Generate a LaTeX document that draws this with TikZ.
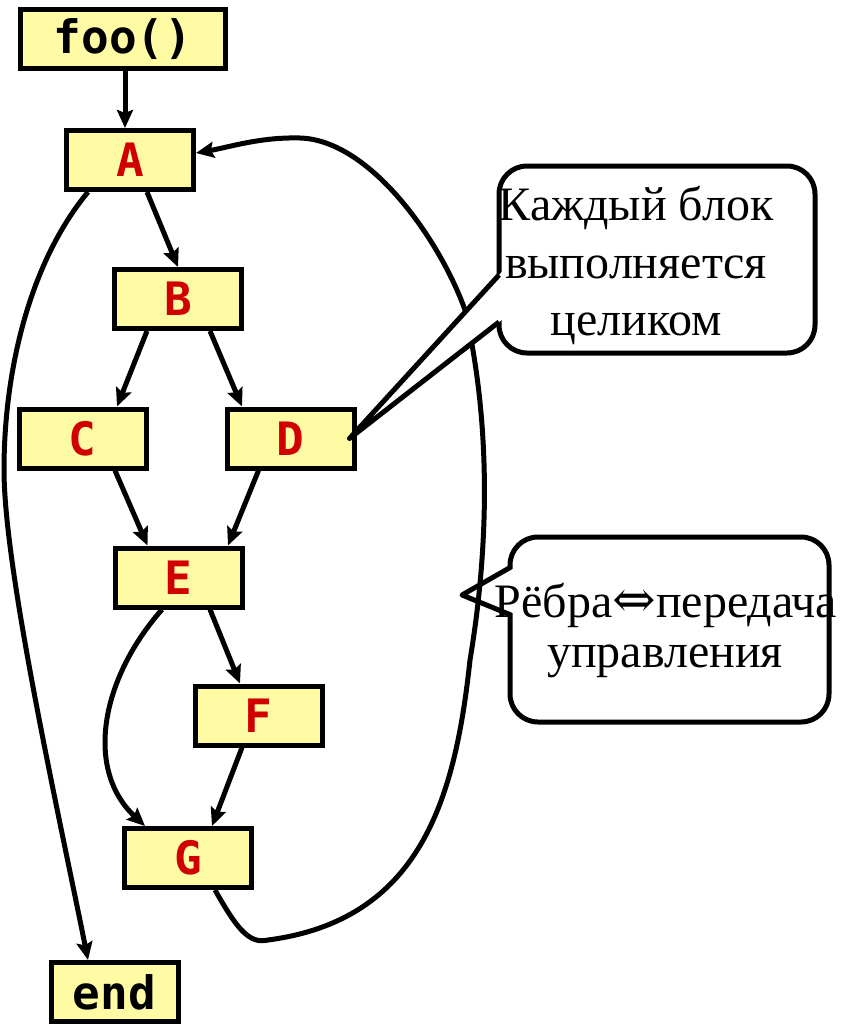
\documentclass[tikz,border=0pt]{standalone}
\usepackage{fontspec}
\setmainfont{Liberation Serif}
\newfontfamily\boxfont{DejaVu Sans Mono}
\newfontfamily\symfont{DejaVu Serif}
\usetikzlibrary{arrows.meta}
\definecolor{boxfill}{HTML}{FFFBA5}
\definecolor{boxred}{HTML}{D00000}
\begin{document}
\begin{tikzpicture}[x=1pt,y=-1pt,
  blk/.style={draw=black, line width=5pt, fill=boxfill, minimum width=127pt, minimum height=59pt, inner sep=0pt, font=\boxfont\bfseries\fontsize{46}{50}\selectfont, text=boxred},
  blkk/.style={blk, text=black},
  flow/.style={line width=5pt, line join=round, -{Stealth[length=18pt,width=16pt,inset=3pt]}},
  callout/.style={draw=black, line width=5pt, fill=white, rounded corners=28pt},
  wedge/.style={line width=5pt, line join=round},
  ctext/.style={font=\fontsize{48}{57}\selectfont, anchor=base, inner sep=0pt}]
\useasboundingbox (0,0) rectangle (846,1025);

\node[blkk, minimum width=205pt] (foo) at (123,39) {foo()};
\node[blk] (A) at (130,160) {A};
\node[blk] (B) at (178,299) {B};
\node[blk] (C) at (82.5,438.5) {C};
\node[blk] (D) at (290.5,438.5) {D};
\node[blk] (E) at (178.5,577.5) {E};
\node[blk] (F) at (258.5,715.5) {F};
\node[blk] (G) at (188,858) {G};
\node[blkk] (endn) at (114.5,992) {end};

\draw[flow] ([xshift=2pt]foo.south) -- ([xshift=-5pt]A.north);
\draw[flow] ([xshift=17pt]A.south) -- (B.north);
\draw[flow] ([xshift=-42pt]A.south) .. controls (30,262) and (4,370) .. (4,470)
  .. controls (4,570) and (60,820) .. ([xshift=-26.5pt]endn.north);
\draw[flow] ([xshift=-31pt]B.south) -- ([xshift=34.5pt]C.north);
\draw[flow] ([xshift=32pt]B.south) -- ([xshift=-48.5pt]D.north);
\draw[flow] ([xshift=32.5pt]C.south) -- ([xshift=-31pt]E.north);
\draw[flow] ([xshift=-32pt]D.south) -- ([xshift=49.5pt]E.north);
\draw[flow] ([xshift=31.5pt]E.south) -- ([xshift=-18.5pt]F.north);
\draw[flow] ([xshift=-16.5pt]E.south) .. controls (100,680) and (85,770) .. ([xshift=-43pt]G.north);
\draw[flow] ([xshift=-16.5pt]F.south) -- ([xshift=24pt]G.north);
\draw[flow] ([xshift=27pt]G.south) .. controls (235,925) and (248,945) .. (268,940)
  .. controls (420,920) and (455,800) .. (470,660)
  .. controls (490,540) and (490,420) .. (465,310)
  .. controls (440,240) and (370,140) .. (300,138)
  .. controls (260,137) and (230,147) .. ([yshift=7pt]A.east);

% callout 1
\coordinate (tip1) at ([xshift=-7pt]D.east);
\draw[callout] (499,166) rectangle (815,353);
\fill[white] (tip1) -- (502,271.8) -- (502,319.7) -- cycle;
\draw[wedge] (499,275) -- (tip1) -- (499,322);
\node[ctext] (c1a) at (636,220) {Каждый блок};
\node[ctext] (c1b) at (636,278) {выполняется};
\node[ctext] (c1c) at (636,335) {целиком};

% callout 2
\coordinate (tip2) at (462,595);
\draw[callout] (510,537) rectangle (829,722);
\fill[white] (506,569) rectangle (514,613);
\draw[wedge] (511,567) -- (tip2) -- (511,615);
\node[ctext] (c2a) at (666,617) {Рёбра{\symfont\fontsize{52}{57}\selectfont ⇔}передача};
\node[ctext] (c2b) at (665,667) {управления};
\end{tikzpicture}
\end{document}
